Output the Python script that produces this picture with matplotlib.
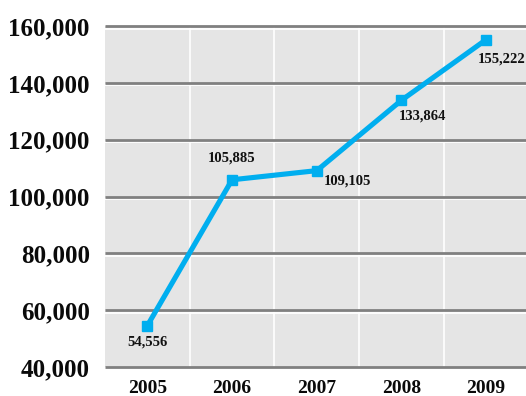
import matplotlib
matplotlib.use("Agg")
import matplotlib.pyplot as plt
from matplotlib.transforms import offset_copy

years = ["2005", "2006", "2007", "2008", "2009"]
values = [54556, 105885, 109105, 133864, 155222]
y_ticks = [40000, 60000, 80000, 100000, 120000, 140000, 160000]
# label offsets in pixels (dx, dy) and horizontal alignment
label_offsets = [(0, -16, "center"), (0, 22, "center"), (7, -10, "left"),
                 (-3, -16, "left"), (-8, -19, "left")]

FONT = "Liberation Serif"
LINE_BLUE = "#00AEEF"

fig = plt.figure(figsize=(5.26, 3.96), dpi=100)
ax = fig.add_axes([105 / 526, 29 / 396, 1 - 105 / 526, (370 - 29) / 396])
ax.set_facecolor("#E5E5E5")

x = list(range(len(years)))
ax.set_xlim(-0.5, 4.47)
ax.set_ylim(y_ticks[0], y_ticks[-1])

# vertical white separators between categories
for xv in [0.5, 1.5, 2.5, 3.5]:
    ax.axvline(xv, color="white", lw=1.2, zorder=1)

# horizontal gridlines: dark rule with a thin white line beneath
ytrans = ax.get_yaxis_transform()
white_trans = offset_copy(ytrans, fig=fig, y=-2.5, units="dots")
for yv in y_ticks:
    ax.plot([0, 1], [yv, yv], transform=white_trans, color="white",
            lw=1.3, zorder=1.5, clip_on=False, solid_capstyle="butt")
    ax.plot([0, 1], [yv, yv], transform=ytrans, color="#808080",
            lw=2.0, zorder=2, clip_on=False, solid_capstyle="butt")

ax.plot(x, values, color=LINE_BLUE, lw=3.7, marker="s", markersize=7.5,
        markeredgecolor=LINE_BLUE, zorder=3, clip_on=False)

for xi, v, (dx, dy, ha) in zip(x, values, label_offsets):
    ax.annotate(f"{v:,}", (xi, v), xytext=(dx, dy), textcoords="offset pixels",
                ha=ha, va="center", fontsize=10.5, fontweight="bold",
                family=FONT, color="#111111", zorder=4)

ax.set_xticks(x)
ax.set_xticklabels(years, fontsize=14, fontweight="bold", family=FONT)
ax.set_yticks(y_ticks)
ax.set_yticklabels([f"{t:,}" for t in y_ticks], fontsize=18,
                   fontweight="bold", family=FONT)
ax.tick_params(axis="both", length=0, colors="#0a0a0a")
ax.tick_params(axis="y", pad=11)
ax.tick_params(axis="x", pad=9.5)
for s in ax.spines.values():
    s.set_visible(False)

fig.savefig("out.png", dpi=100)
